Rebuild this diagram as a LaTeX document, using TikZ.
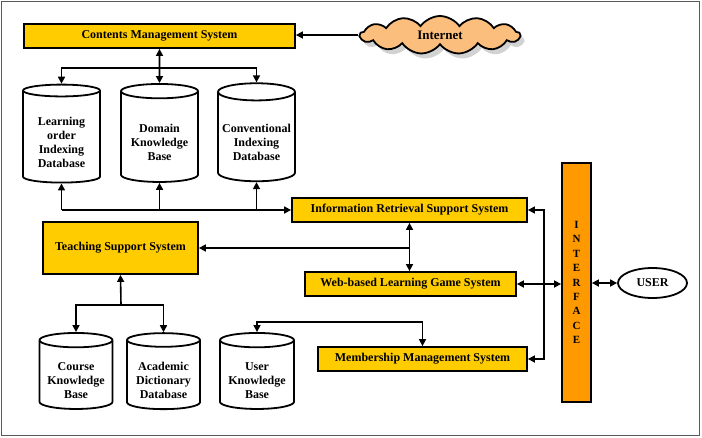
\documentclass[tikz,border=0pt]{standalone}
\usepackage{fontspec}
\setmainfont{Liberation Serif}
\usetikzlibrary{positioning}
\usetikzlibrary{arrows.meta, shapes.geometric, shapes.symbols, shadows}
\definecolor{sysgold}{RGB}{255,204,0}
\definecolor{ifaceorange}{RGB}{255,153,0}
\definecolor{cloudorange}{RGB}{252,190,125}
\newcommand{\dbtop}{\rule{0pt}{20pt}}
\tikzset{
  tip/.tip={Triangle[length=7pt,width=7pt]},
  link/.style={line width=1.6pt, -tip},
  dlink/.style={line width=1.6pt, tip-tip},
  sysbox/.style={rectangle, draw, line width=1.8pt, fill=sysgold, font=\fontsize{12}{14}\selectfont\bfseries, inner sep=0pt},
  dbase/.style={cylinder, shape border rotate=90, aspect=0.25, draw, line width=1.8pt, fill=white, align=center, font=\fontsize{12}{14}\selectfont\bfseries, inner sep=0pt}
}
\begin{document}
\begin{tikzpicture}[x=1pt, y=-1pt]
\useasboundingbox (0,0) rectangle (702,437);
\draw[gray!70!black, line width=1pt] (1.5,1.5) rectangle (699.5,435);

\node[sysbox, minimum width=271pt, minimum height=24pt] (cms) at (159.5,36) {Contents Management System};
\node[cloud, cloud puffs=13, cloud puff arc=110, aspect=4, draw, line width=1.8pt, fill=cloudorange,
      drop shadow={shadow xshift=4pt, shadow yshift=-5pt, fill=gray!70},
      minimum width=160pt, minimum height=38pt, font=\fontsize{13}{15}\selectfont\bfseries] (inet) at (440,35) {Internet};

\node[dbase, minimum width=77pt, minimum height=98pt] (lod) at (61.5,137) {\dbtop Learning\\order\\Indexing\\Database};
\node[dbase, minimum width=77pt, minimum height=98pt] (dkb) at (159.5,137) {\dbtop Domain\\Knowledge\\Base};
\node[dbase, minimum width=77pt, minimum height=98pt] (cid) at (256.5,137) {\dbtop Conventional\\Indexing\\Database};

\node[sysbox, minimum width=235pt, minimum height=24pt] (irss) at (409.5,210) {Information Retrieval Support System};
\node[sysbox, minimum width=155pt, minimum height=52pt] (tss) at (120.5,248) {Teaching Support System};
\node[sysbox, minimum width=211pt, minimum height=24pt] (wlgs) at (410.5,284) {Web-based Learning Game System};
\node[sysbox, minimum width=209pt, minimum height=24pt] (mms) at (422.5,359) {Membership Management System};

\node[rectangle, draw, line width=1.8pt, fill=ifaceorange, minimum width=29pt, minimum height=239pt,
      align=center, font=\fontsize{11}{14.4}\selectfont\bfseries] (iface) at (576.5,282.5) {I\\N\\T\\E\\R\\F\\A\\C\\E};
\node[ellipse, draw, line width=1.8pt, minimum width=69pt, minimum height=30pt, font=\fontsize{12}{14}\selectfont\bfseries] (user) at (652.5,283) {USER};

\node[dbase, minimum width=73pt, minimum height=76pt] (ckb) at (76,375) {\dbtop Course\\Knowledge\\Base};
\node[dbase, minimum width=73pt, minimum height=76pt] (adb) at (163.5,375) {\dbtop Academic\\Dictionary\\Database};
\node[dbase, minimum width=74pt, minimum height=76pt] (ukb) at (257,375) {\dbtop User\\Knowledge\\Base};

\coordinate (cmsfork) at (159.5,68);
\coordinate (tssfork) at (121,305);
\coordinate (mmsfork) at (422.5,322);
\coordinate (ifbus) at (544,210);

\draw[link] (inet.west) -- (cms.east|-inet.west);
\draw[dlink] (cms.south) -- (dkb.north);
\draw[link] (cmsfork) -| (lod.north);
\draw[link] (cmsfork) -| (cid.north);

\draw[link] (lod.south|-irss.west) -- (irss.west);
\draw[link] (lod.south|-irss.west) -- (lod.south);
\draw[link] (dkb.south|-irss.west) -- (dkb.south);
\draw[link] (cid.south|-irss.west) -- (cid.south);

\draw[dlink] (irss.south) -- (irss.south|-wlgs.north);
\draw[link] (irss.south|-tss.east) -- (tss.east);

\draw[dlink] (irss.east) -| (ifbus|-mms.east) -- (mms.east);
\draw[dlink] (wlgs.east) -- (iface.west|-wlgs.east);
\draw[dlink] (iface.east|-user.west) -- (user.west);

\draw[link] (tssfork) -- (tss.south);
\draw[link] (tssfork) -| (ckb.north);
\draw[link] (tssfork) -| (adb.north);

\draw[dlink] (ukb.north) |- (mmsfork) -- (mms.north);
\end{tikzpicture}
\end{document}
